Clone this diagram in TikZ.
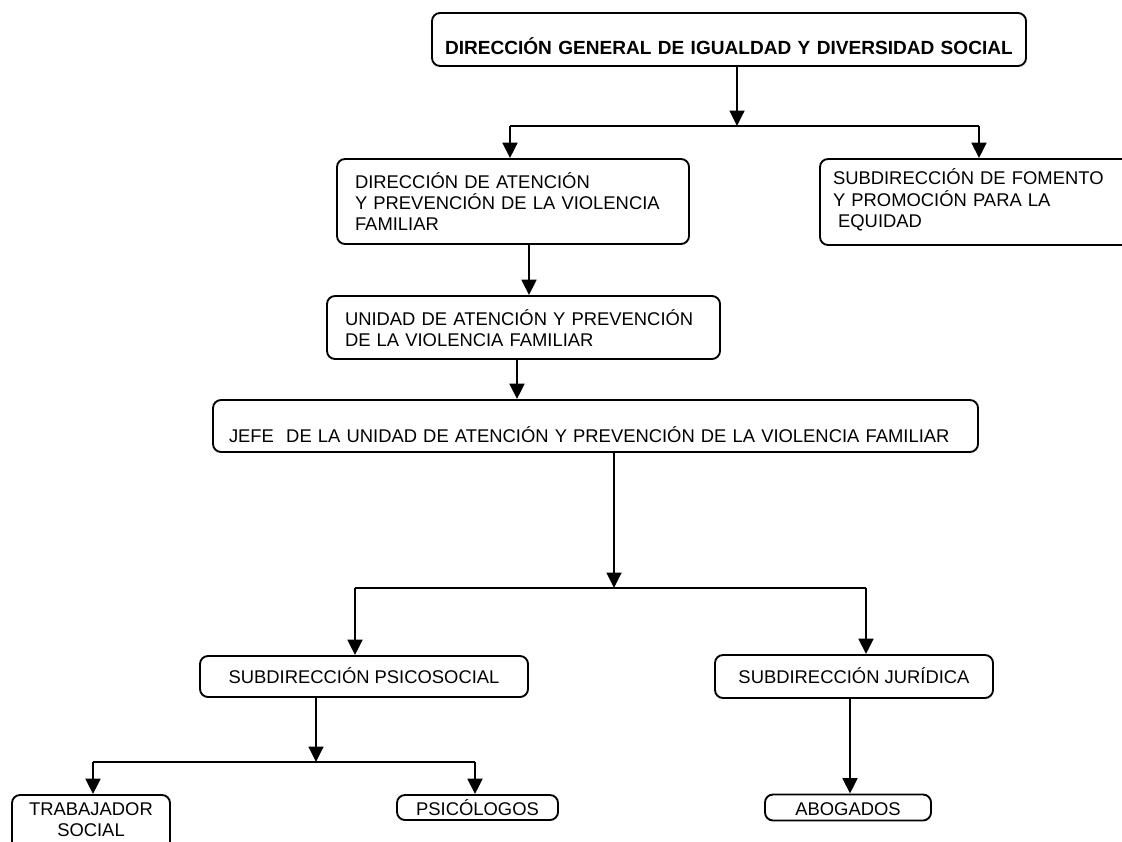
\documentclass[tikz,border=0pt]{standalone}
\usepackage{fontspec}
\setmainfont{Liberation Sans}
\usetikzlibrary{arrows.meta}

\begin{document}
\begin{tikzpicture}[
        x=0.75pt, y=-0.75pt,
        box/.style={draw, rectangle, rounded corners=6pt, line width=1.4pt, inner sep=0pt,
            font=\fontsize{13.8pt}{16pt}\selectfont},
        line width=1.8pt,
        >={Triangle[length=11.5pt, width=11pt]}
    ]
        \useasboundingbox (0,0) rectangle (1122,842);
        \clip (0,0) rectangle (1122,842);

        \node[box, font=\fontsize{14.3pt}{16pt}\selectfont\bfseries, minimum width=445.5pt, minimum height=39.75pt,
            text width=426pt, align=left, text height=23.25pt, text depth=0pt] (dgral) at (729,39.5)
            {DIRECCIÓN GENERAL DE IGUALDAD Y DIVERSIDAD SOCIAL};
        \node[box, minimum width=264pt, minimum height=63.75pt, text width=237pt, align=left,
            text height=0pt, text depth=20.25pt] (dapvf) at (513,201.5)
            {DIRECCIÓN DE ATENCIÓN\\Y PREVENCIÓN DE LA VIOLENCIA\\FAMILIAR};
        \node[box, minimum width=236.25pt, minimum height=64.5pt, text width=216.75pt, align=left,
            text height=0pt, text depth=25.5pt] (sfpe) at (977.5,202)
            {SUBDIRECCIÓN DE FOMENTO\\Y PROMOCIÓN PARA LA\\\hspace*{0.28em}EQUIDAD};
        \node[box, minimum width=294.75pt, minimum height=47.25pt, text width=267.75pt, align=left,
            text height=0pt, text depth=3.75pt] (uapvf) at (523.5,327.5)
            {UNIDAD DE ATENCIÓN Y PREVENCIÓN\\DE LA VIOLENCIA FAMILIAR};
        \node[box, minimum width=573.75pt, minimum height=39pt, text width=549.75pt, align=left,
            text height=24pt, text depth=0pt] (jefe) at (595.5,426)
            {JEFE\ \ DE LA UNIDAD DE ATENCIÓN Y PREVENCIÓN DE LA VIOLENCIA FAMILIAR};
        \node[box, minimum width=246pt, minimum height=30.75pt, align=center,
            text height=9.75pt, text depth=0pt] (spsico) at (364,676.5) {SUBDIRECCIÓN PSICOSOCIAL};
        \node[box, minimum width=208.5pt, minimum height=32.25pt, align=center,
            text height=9.75pt, text depth=0pt] (sjur) at (854,676.5) {SUBDIRECCIÓN JURÍDICA};
        \node[box, minimum width=118.5pt, minimum height=41.25pt, text width=110pt, align=center,
            text height=0pt, text depth=11.25pt] (trab) at (91,822.5) {TRABAJADOR\\SOCIAL};
        \node[box, minimum width=120.75pt, minimum height=18.75pt, align=center,
            text height=11.25pt, text depth=0pt] (psico) at (477.5,807.5) {PSICÓLOGOS};
        \node[box, minimum width=124.5pt, minimum height=19.5pt, align=center,
            text height=11.25pt, text depth=0pt] (abog) at (848,807.5) {ABOGADOS};

        % branch points
        \coordinate (j1) at (737,126);
        \coordinate (j1l) at (510,126);
        \coordinate (j1r) at (979,126);
        \coordinate (bd) at (529,270);
        \coordinate (de) at (517,378);
        \coordinate (j2) at (614,588);
        \coordinate (j2l) at (355,588);
        \coordinate (j2r) at (866,588);
        \coordinate (j3) at (316,762);
        \coordinate (j3l) at (93,762);
        \coordinate (j3r) at (475,762);
        \coordinate (gj) at (850,745);

        \draw[->] (dgral.south -| j1) -- (j1);
        \draw (j1l) -- (j1r);
        \draw[->] (j1l) -- (dapvf.north -| j1l);
        \draw[->] (j1r) -- (sfpe.north -| j1r);

        \draw[->] (dapvf.south -| bd) -- (uapvf.north -| bd);
        \draw[->] (uapvf.south -| de) -- (jefe.north -| de);

        \draw[->] (jefe.south -| j2) -- (j2);
        \draw (j2l) -- (j2r);
        \draw[->] (j2l) -- (spsico.north -| j2l);
        \draw[->] (j2r) -- (sjur.north -| j2r);

        \draw[->] (spsico.south -| j3) -- (j3);
        \draw (j3l) -- (j3r);
        \draw[->] (j3l) -- (trab.north -| j3l);
        \draw[->] (j3r) -- (psico.north -| j3r);

        \draw[->] (sjur.south -| gj) -- (abog.north -| gj);
    \end{tikzpicture}
\end{document}
